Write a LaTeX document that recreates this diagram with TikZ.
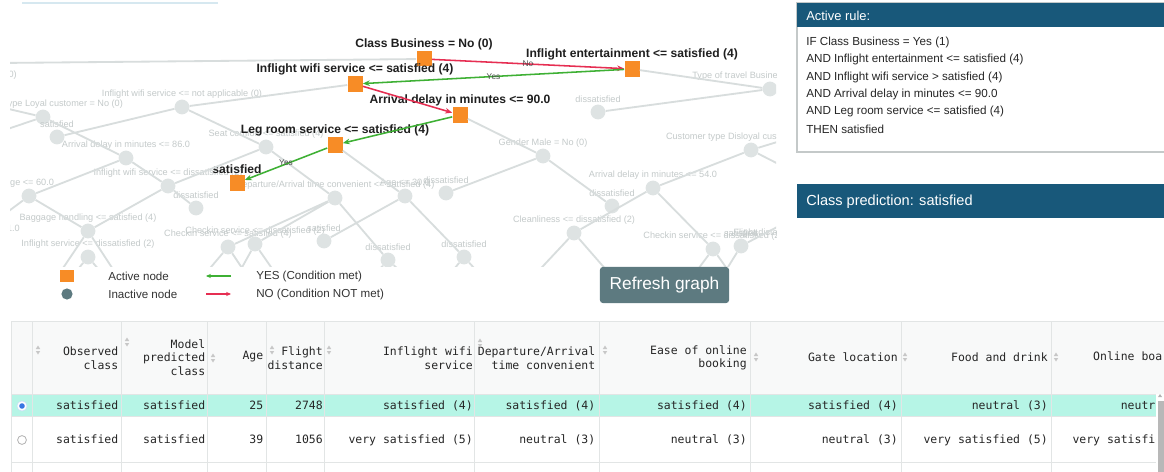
\documentclass[tikz,border=0pt]{standalone}
\usepackage{fontspec}
\setmainfont{Liberation Sans}
\setmonofont{DejaVu Sans Mono}
\usetikzlibrary{arrows.meta}

\definecolor{activeorange}{RGB}{247,140,38}
\definecolor{yesgreen}{RGB}{62,176,52}
\definecolor{nored}{RGB}{230,46,82}
\definecolor{fadegray}{RGB}{216,221,221}
\definecolor{fadenode}{RGB}{222,227,227}
\definecolor{fadetext}{RGB}{196,202,202}
\definecolor{ruleblue}{RGB}{24,88,122}
\definecolor{slate}{RGB}{93,122,128}
\definecolor{rowmint}{RGB}{182,245,230}
\definecolor{gridgray}{RGB}{226,229,229}
\definecolor{headgray}{RGB}{248,249,249}
\definecolor{boxgray}{RGB}{196,201,201}
\definecolor{topline}{RGB}{214,232,240}
\definecolor{radioblue}{RGB}{56,118,226}

\begin{document}
\begin{tikzpicture}[x=0.025cm, y=-0.025cm, label distance=0.8pt,
    act/.style = {fill=activeorange, minimum size=0.375cm, inner sep=0pt,
        label={[lbl]above:#1}},
    lbl/.style = {font=\fontsize{8.6}{10}\selectfont\bfseries, text=black!88, inner sep=0pt},
    idle/.style = {circle, fill=fadenode, minimum size=0.37cm, inner sep=0pt,
        label={[flbl]above:#1}},
    flbl/.style = {font=\fontsize{6.5}{7.5}\selectfont, text=fadetext, inner sep=0pt},
    fline/.style = {draw=fadegray, line width=1.3pt},
    yes/.style = {draw=yesgreen, line width=1.1pt, -{Stealth[length=5pt,width=4pt]}},
    no/.style = {draw=nored, line width=1.1pt, -{Stealth[length=5pt,width=4pt]}},
    elbl/.style = {font=\fontsize{5.9}{7}\selectfont, text=black!70, inner sep=0pt},
    rtext/.style = {anchor=west, font=\fontsize{8.3}{10}\selectfont, text=black!85, inner sep=0pt},
    legtext/.style = {anchor=west, font=\fontsize{8.25}{10}\selectfont, text=black!80, inner sep=0pt},
    cell/.style = {anchor=base east, font=\ttfamily\fontsize{8.15}{9.6}\selectfont, text=black!85, inner sep=0pt},
    head/.style = {cell, anchor=east, align=right},
    gridline/.style = {draw=gridgray, line width=0.6pt},
    sorticon/.pic = {\fill[black!22] (-2.2,-1) -- (2.2,-1) -- (0,-4.5) -- cycle
        (-2.2,1) -- (2.2,1) -- (0,4.5) -- cycle;}
]
\useasboundingbox[fill=white] (0,0) rectangle (1164,472);

% strip left over from the panel above the graph
\draw[topline, line width=0.8pt] (22,3) -- (218,3);

% greyed out part of the tree
\begin{scope}
    \clip (10,28) rectangle (776,266);
    \node[idle={Customer type Loyal customer = No (0)}] (f1) at (43,117) {};
    \node[idle={satisfied}] (f2) at (57,137) {};
    \node[idle={Inflight wifi service <= not applicable (0)}] (f3) at (182,107) {};
    \node[idle={Arrival delay in minutes <= 86.0}] (f4) at (126,158) {};
    \node[idle={Inflight wifi service <= dissatisfied (2)}] (f5) at (168,186) {};
    \node[idle={Age <= 60.0}] (f6) at (29,196) {};
    \node[idle={dissatisfied}] (f7) at (196,208) {};
    \node[idle={Baggage handling <= satisfied (4)}] (f8) at (88,231) {};
    \node[idle={Inflight service <= dissatisfied (2)}] (f9) at (88,257) {};
    \node[idle={Checkin service <= satisfied (4)}] (f10) at (228,247) {};
    \node[idle={Checkin service <= dissatisfied (2)}] (f11) at (255,244) {};
    \node[idle={satisfied}] (f12) at (324,241) {};
    \node[idle={Seat comfort <= satisfied (4)}] (f13) at (266,147) {};
    \node[idle={Departure/Arrival time convenient <= satisfied (4)}] (f14) at (335,198) {};
    \node[idle={dissatisfied}] (f15) at (388,260) {};
    \node[idle={Age <= 30.0}] (f16) at (405,196) {};
    \node[idle={dissatisfied}] (f17) at (446,193) {};
    \node[idle={dissatisfied}] (f18) at (464,257) {};
    \node[idle={Gender Male = No (0)}] (f19) at (543,156) {};
    \node[idle={dissatisfied}] (f20) at (598,112) {};
    \node[idle={Type of travel Business travel = No (0)}] (f21) at (770,89) {};
    \node[idle={Customer type Disloyal customer = No (0)}] (f22) at (751,150) {};
    \node[idle={Arrival delay in minutes <= 54.0}] (f23) at (653,188) {};
    \node[idle={dissatisfied}] (f24) at (612,206) {};
    \node[idle={Cleanliness <= dissatisfied (2)}] (f25) at (574,233) {};
    \node[idle={Checkin service <= dissatisfied (2)}] (f26) at (713,249) {};
    \node[idle={satisfied}] (f27) at (741,246) {};
    \node[flbl] (t1) at (763,233) {Flight distance};
    \node[flbl, anchor=east] (t2) at (17,75) {(0)};
    \node[flbl, anchor=east] (t3) at (20,228) {21.0};

    % loose ends running out of the view
    \coordinate (r0) at (0,63);
    \coordinate (o1) at (800,108);
    \coordinate (o2) at (-30,100);
    \coordinate (o3) at (-10,135);
    \coordinate (o4) at (-10,225);
    \coordinate (o5) at (55,280);
    \coordinate (o6) at (120,280);
    \coordinate (o7) at (65,285);
    \coordinate (o8) at (112,285);
    \coordinate (o9) at (200,280);
    \coordinate (o10) at (250,280);
    \coordinate (o11) at (235,280);
    \coordinate (o12) at (280,280);
    \coordinate (o13) at (370,280);
    \coordinate (o14) at (410,280);
    \coordinate (o15) at (530,280);
    \coordinate (o16) at (615,280);
    \coordinate (o17) at (690,280);
    \coordinate (o18) at (735,280);
    \coordinate (o19) at (720,280);
    \coordinate (o20) at (800,215);
    \coordinate (o21) at (800,135);
    \coordinate (o22) at (800,175);
    \coordinate (o23) at (445,280);
    \coordinate (o24) at (485,280);
\end{scope}

% active path
\node[act={Class Business = No (0)}] (1) at (424,59) {};
\node[act={Inflight entertainment <= satisfied (4)}] (2) at (632,69) {};
\node[act={Inflight wifi service <= satisfied (4)}] (3) at (355,84) {};
\node[act={Arrival delay in minutes <= 90.0}] (4) at (460,115) {};
\node[act={Leg room service <= satisfied (4)}] (5) at (335,145) {};
\node[act={satisfied}] (6) at (237,183) {};

\begin{scope}
    \clip (10,28) rectangle (776,266);
    \draw[fline] (r0) -- (1) (2) -- (f21) (f21) -- (f20) (f21) -- (o1)
        (3) -- (f3) (f3) -- (f2) (f3) -- (f13)
        (o2) -- (f1) (f1) -- (f4) (f1) -- (o3)
        (f4) -- (f6) (f4) -- (f5) (f13) -- (f5) (f13) -- (f14)
        (f5) -- (f7) (f5) -- (f8) (f6) -- (f8) (f6) -- (o4)
        (f8) -- (o5) (f8) -- (o6) (f9) -- (o7) (f9) -- (o8)
        (f14) -- (f11) (f14) -- (f15) (f14) -- (f10)
        (f10) -- (o9) (f10) -- (o10) (f11) -- (o11) (f11) -- (o12)
        (5) -- (f16) (f16) -- (f12) (f16) -- (f18)
        (f15) -- (o13) (f15) -- (o14) (f18) -- (o23) (f18) -- (o24)
        (4) -- (f19) (f19) -- (f17) (f19) -- (f24)
        (f23) -- (f22) (f23) -- (f25) (f23) -- (f26)
        (f22) -- (o21) (f22) -- (o22)
        (f25) -- (o15) (f25) -- (o16) (f26) -- (o17) (f26) -- (o18)
        (f27) -- (o19) (f27) -- (o20);
\end{scope}

\draw[no] (1) -- (2) node[elbl, midway] (nl1) {No};
\draw[yes] (2) -- (3) node[elbl, midway] (yl1) {Yes};
\draw[no] (3) -- (4);
\draw[yes] (4) -- (5);
\draw[yes] (5) -- (6) node[elbl, midway, yshift=1pt] (yl2) {Yes};

% legend
\node[fill=activeorange, minimum width=0.35cm, minimum height=0.3cm, inner sep=0pt] (la) at (67,276) {};
\node[legtext] (lat) at (108,276) {Active node};
\node[circle, fill=slate, minimum size=0.28cm, inner sep=0pt] (li) at (67,294) {};
\node[legtext] (lit) at (108,294) {Inactive node};
\coordinate (ya) at (206,276);
\coordinate (yb) at (231,276);
\coordinate (na) at (206,294);
\coordinate (nb) at (231,294);
\draw[yes, line width=1pt, -{Stealth[length=3.5pt,width=3pt]}] (yb) -- (ya);
\draw[no, line width=1pt, -{Stealth[length=3.5pt,width=3pt]}] (na) -- (nb);
\node[legtext] (yt) at (256,276) {YES (Condition met)};
\node[legtext] (nt) at (256,294) {NO (Condition NOT met)};

% refresh button
\node[fill=slate, rounded corners=2pt, minimum width=3.225cm, minimum height=0.9cm,
    text=white, font=\fontsize{12.3}{14}\selectfont] (refresh) at (664.5,285) {Refresh graph};

% rule panel
\draw[boxgray, line width=0.8pt, fill=white] (797,3) rectangle (1175,152);
\fill[ruleblue] (797,3) rectangle (1175,27);
\node[anchor=west, text=white, inner sep=0pt, font=\fontsize{9.2}{11}\selectfont] (rh) at (806,16) {Active rule:};
\node[rtext] (r1) at (806,42) {IF Class Business = Yes (1)};
\node[rtext] (r2) at (806,59) {AND Inflight entertainment <= satisfied (4)};
\node[rtext] (r3) at (806,77) {AND Inflight wifi service > satisfied (4)};
\node[rtext] (r4) at (806,94) {AND Arrival delay in minutes <= 90.0};
\node[rtext] (r5) at (806,111) {AND Leg room service <= satisfied (4)};
\node[rtext] (r6) at (806,129) {THEN satisfied};

\fill[ruleblue] (797,184) rectangle (1175,218);
\node[anchor=west, text=white, inner sep=0pt, font=\fontsize{10.35}{12}\selectfont] (cp) at (806,202) {Class prediction: satisfied};

% table
\begin{scope}
    \clip (0,318) rectangle (1164,472);
    \fill[headgray] (11,321) rectangle (1200,394);
    \fill[rowmint] (11,394) rectangle (1200,416);
    \draw[gridline] (11,321) -- (1200,321) (11,394) -- (1200,394)
        (11,416) -- (1200,416) (11,462) -- (1200,462);
    \draw[gridline] (11,321) -- (11,472) (32,321) -- (32,472) (121,321) -- (121,472)
        (207,321) -- (207,472) (266,321) -- (266,472) (324,321) -- (324,472)
        (474,321) -- (474,472) (599,321) -- (599,472) (750,321) -- (750,472)
        (901,321) -- (901,472) (1051,321) -- (1051,472);

    \node[head] (h1) at (118.5,358) {Observed\\class};
    \node[head] (h2) at (205.5,357.5) {Model\\predicted\\class};
    \node[head] (h3) at (263.5,357) {Age};
    \node[head] (h4) at (323,358) {Flight\\distance};
    \node[head] (h5) at (473,358) {Inflight wifi\\service};
    \node[head] (h6) at (595.5,358) {Departure/Arrival\\time convenient};
    \node[head] (h7) at (747,358) {Ease of online\\booking};
    \node[head] (h8) at (898,357) {Gate location};
    \node[head] (h9) at (1048,357) {Food and drink};
    \node[head] (h10) at (1197,357) {Online boarding};

    \pic at (38,350) {sorticon};
    \pic at (127,342) {sorticon};
    \pic at (213,358) {sorticon};
    \pic at (272,350) {sorticon};
    \pic at (329,350) {sorticon};
    \pic at (480,343) {sorticon};
    \pic at (605,350) {sorticon};
    \pic at (756,357) {sorticon};
    \pic at (905,357) {sorticon};
    \pic at (1056,357) {sorticon};

    % first row, selected
    \node[circle, fill=white, draw=radioblue!25, minimum size=0.25cm, inner sep=0pt] (rad1) at (22,406) {};
    \node[circle, fill=radioblue, minimum size=0.14cm, inner sep=0pt] (dot1) at (22,406) {};
    \node[cell] (c11) at (118.5,409.7) {satisfied};
    \node[cell] (c12) at (205.5,409.7) {satisfied};
    \node[cell] (c13) at (263.5,409.7) {25};
    \node[cell] (c14) at (323,409.7) {2748};
    \node[cell] (c15) at (473,409.7) {satisfied (4)};
    \node[cell] (c16) at (595.5,409.7) {satisfied (4)};
    \node[cell] (c17) at (747,409.7) {satisfied (4)};
    \node[cell] (c18) at (898,409.7) {satisfied (4)};
    \node[cell] (c19) at (1048,409.7) {neutral (3)};
    \node[cell] (c110) at (1197,409.7) {neutral (3)};

    % second row
    \node[circle, draw=black!35, line width=0.5pt, minimum size=0.22cm, inner sep=0pt] (rad2) at (22,440) {};
    \node[cell] (c21) at (118.5,443.7) {satisfied};
    \node[cell] (c22) at (205.5,443.7) {satisfied};
    \node[cell] (c23) at (263.5,443.7) {39};
    \node[cell] (c24) at (323,443.7) {1056};
    \node[cell] (c25) at (473,443.7) {very satisfied (5)};
    \node[cell] (c26) at (595.5,443.7) {neutral (3)};
    \node[cell] (c27) at (747,443.7) {neutral (3)};
    \node[cell] (c28) at (898,443.7) {neutral (3)};
    \node[cell] (c29) at (1048,443.7) {very satisfied (5)};
    \node[cell] (c210) at (1197,443.7) {very satisfied (5)};

    % scrollbar
    \fill[white] (1156,394) rectangle (1164,472);
    \fill[black!28] (1157.5,401) rectangle (1163.5,472);
    \fill[black!30] (1158,397) -- (1162,397) -- (1160,394) -- cycle;
\end{scope}
\end{tikzpicture}
\end{document}
